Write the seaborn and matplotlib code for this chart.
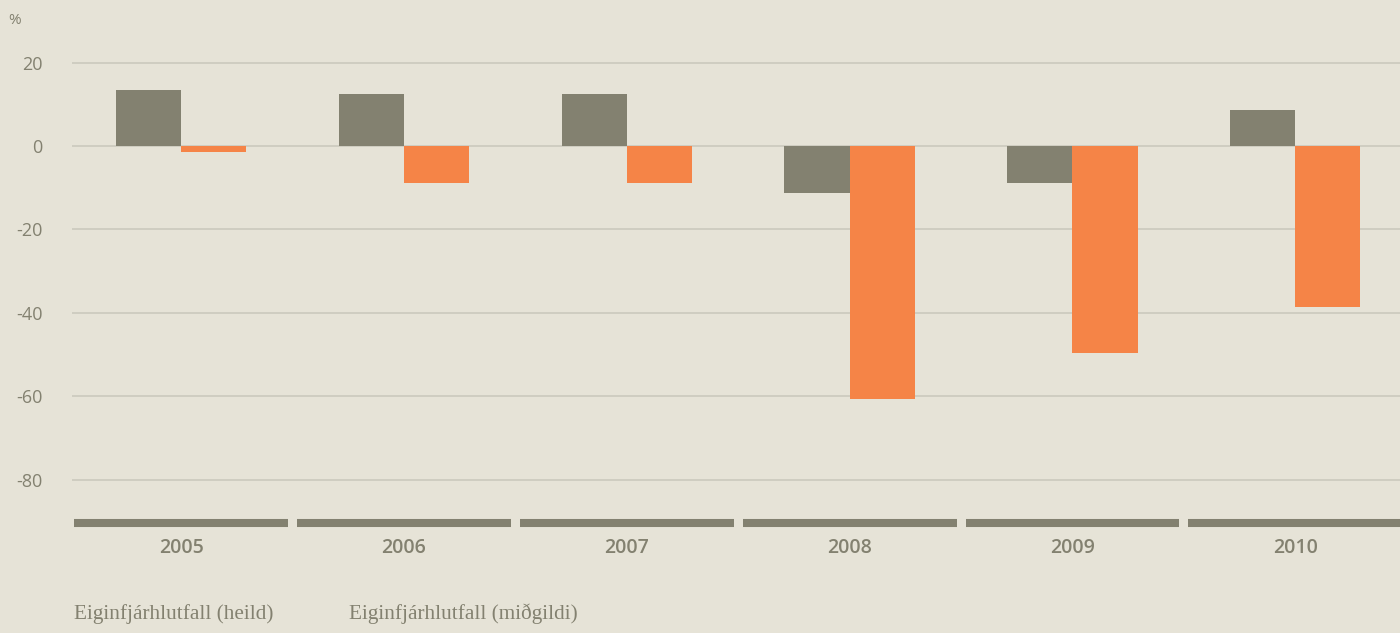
import pandas as pd
import numpy as np
import matplotlib.pyplot as plt
import seaborn as sns

years = ['2005', '2006', '2007', '2008', '2009', '2010']
series_names = ['Eiginfjárhlutfall (heild)', 'Eiginfjárhlutfall (miðgildi)']
heild = [13.5, 12.5, 12.5, -11.3, -8.9, 8.6]
midgildi = [-1.5, -8.9, -8.9, -60.7, -49.6, -38.6]
y_ticks = [20, 0, -20, -40, -60, -80]

bg = '#e6e3d7'
gray = '#838170'
orange = '#f58447'
grid_col = '#cbc9bd'

df = pd.DataFrame({
    'year': years * 2,
    'value': heild + midgildi,
    'series': [series_names[0]] * len(years) + [series_names[1]] * len(years),
})

sns.set_style('white')
plt.rcParams['font.family'] = ['Open Sans', 'DejaVu Sans']

fig = plt.figure(figsize=(14, 6.33), dpi=100, facecolor=bg)
ax = fig.add_axes([72 / 1400, 1 - 530 / 633, 1 - 72 / 1400, 520 / 633])
ax.set_facecolor(bg)

sns.barplot(data=df, x='year', y='value', hue='series', palette=[gray, orange],
            width=0.585, saturation=1, legend=False, ax=ax, zorder=2,
            linewidth=0, edgecolor='none')

ax.set_ylim(-92.1, 32.6)
ax.set_xlim(-0.49, len(years) - 0.53)

for t in y_ticks:
    ax.axhline(t, color=grid_col, linewidth=1.2, zorder=1)

# category band along the bottom
for i in range(len(years)):
    ax.hlines(-90.4, i - 0.48, i + 0.48, color=gray, linewidth=5.8, zorder=2)

for s in ax.spines.values():
    s.set_visible(False)

ax.set_yticks(y_ticks)
ax.set_yticklabels([str(t) for t in y_ticks])
ax.tick_params(axis='y', length=0, pad=21, labelsize=13, labelcolor=gray)
ax.tick_params(axis='x', length=0, pad=6, labelsize=14, labelcolor=gray)
for lbl in ax.get_xticklabels():
    lbl.set_fontweight('semibold')
ax.set_xlabel('')
ax.set_ylabel('')

fig.text(8 / 1400, 1 - 21 / 633, '%', color=gray, fontsize=11, va='center', ha='left')

for name, xpx in zip(series_names, [74, 349]):
    fig.text(xpx / 1400, 1 - 614 / 633, name, color=gray, fontsize=15.3,
             family=['Liberation Serif', 'DejaVu Serif'], va='center', ha='left')

plt.savefig('out.png', dpi=100, facecolor=bg)
